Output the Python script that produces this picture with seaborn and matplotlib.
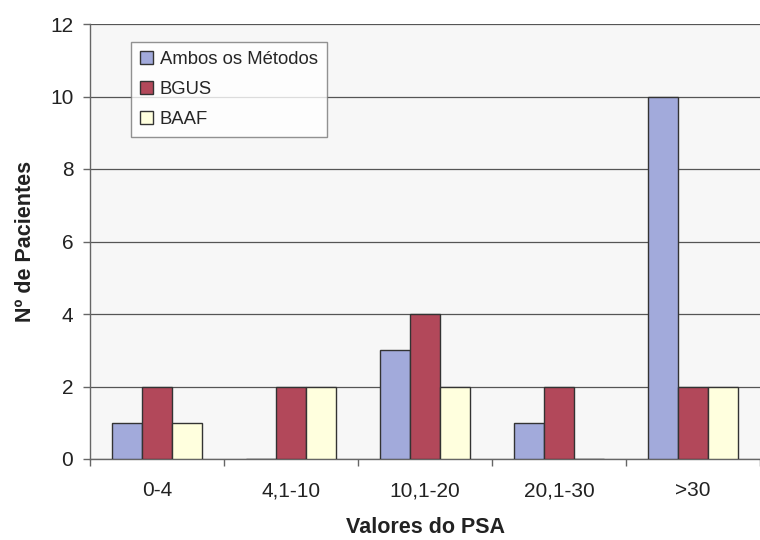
import matplotlib
matplotlib.use("Agg")
import matplotlib.pyplot as plt
from matplotlib.ticker import FixedLocator, NullFormatter
import seaborn as sns
import pandas as pd

categories = ["0-4", "4,1-10", "10,1-20", "20,1-30", ">30"]
series_names = ["Ambos os Métodos", "BGUS", "BAAF"]
ambos = [1, 0, 3, 1, 10]
bgus = [2, 2, 4, 2, 2]
baaf = [1, 2, 2, 0, 2]
y_ticks = [0, 2, 4, 6, 8, 10, 12]

rows = []
for name, vals in zip(series_names, [ambos, bgus, baaf]):
    for cat, v in zip(categories, vals):
        rows.append({"PSA": cat, "Grupo": name, "N": v})
df = pd.DataFrame(rows)

sns.set_theme(style="white")
plt.rcParams["font.family"] = ["Liberation Sans", "DejaVu Sans"]

fig = plt.figure(figsize=(7.6, 5.4), dpi=100)
ax = fig.add_axes([90 / 760, 81 / 540, 670 / 760, 435 / 540])
ax.set_facecolor("#f7f7f7")

palette = {"Ambos os Métodos": "#a2aadb", "BGUS": "#b2485a", "BAAF": "#ffffde"}
sns.barplot(data=df, x="PSA", y="N", hue="Grupo", order=categories,
            hue_order=series_names, palette=palette, width=0.67,
            edgecolor="#333333", linewidth=1.0, saturation=1, ax=ax, zorder=3)

ax.set_xlim(-0.5, len(categories) - 0.5)
ax.set_ylim(0, 12)
ax.set_yticks(y_ticks)
ax.yaxis.grid(True, color="#555555", linewidth=0.9)
ax.set_axisbelow(True)

for side in ["top", "right"]:
    ax.spines[side].set_visible(False)
for side in ["left", "bottom"]:
    ax.spines[side].set_color("#666666")
    ax.spines[side].set_linewidth(1.0)

ax.xaxis.set_minor_locator(FixedLocator([i - 0.5 for i in range(len(categories) + 1)]))
ax.xaxis.set_minor_formatter(NullFormatter())
ax.tick_params(axis="x", which="major", length=0, pad=16, labelsize=15, colors="#222222")
ax.tick_params(axis="x", which="minor", length=5, width=1, color="#666666", bottom=True)
ax.tick_params(axis="y", which="major", length=5, width=1, color="#666666", left=True,
               labelsize=15, labelcolor="#222222", pad=7)

ax.set_xlabel("Valores do PSA", fontsize=15.5, fontweight="bold", color="#222222", labelpad=12)
ax.set_ylabel("Nº de Pacientes", fontsize=15.5, fontweight="bold", color="#222222", labelpad=10)

leg = ax.legend(loc="upper left", bbox_to_anchor=(0.061, 0.959), borderaxespad=0,
                frameon=True, fancybox=False, fontsize=13.3, handlelength=0.7,
                handleheight=0.7, handletextpad=0.35, labelspacing=0.7, borderpad=0.5,
                title=None)
leg.get_frame().set_edgecolor("#777777")
leg.get_frame().set_facecolor("white")
leg.get_frame().set_linewidth(1.0)

fig.savefig("out.png", dpi=100)
